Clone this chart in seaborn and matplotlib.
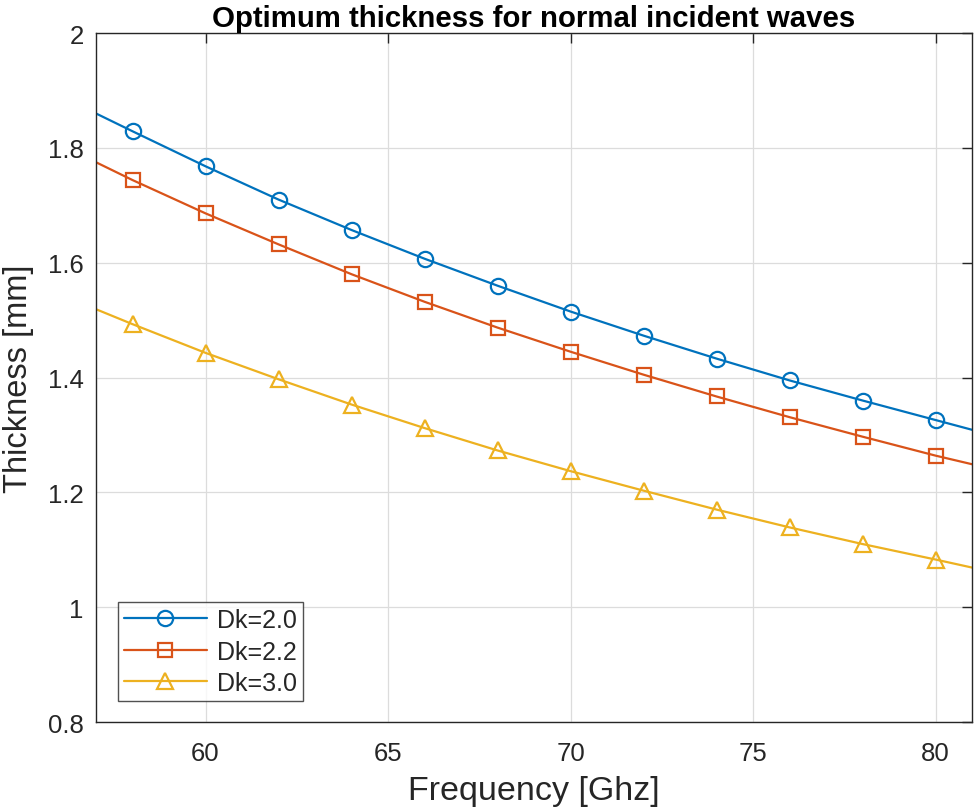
import numpy as np
import pandas as pd
import seaborn as sns
import matplotlib
matplotlib.use("Agg")
import matplotlib.pyplot as plt

# frequency [GHz]: curve spans the axis, markers every 2 GHz from 58 to 80
freq = [57, 58, 60, 62, 64, 66, 68, 70, 72, 74, 76, 78, 80, 81]
thick_dk20 = [1.860, 1.829, 1.768, 1.710, 1.657, 1.607, 1.560, 1.515,
              1.473, 1.433, 1.395, 1.360, 1.326, 1.309]
thick_dk22 = [1.775, 1.744, 1.686, 1.632, 1.580, 1.532, 1.487, 1.445,
              1.405, 1.367, 1.331, 1.297, 1.264, 1.249]
thick_dk30 = [1.519, 1.493, 1.443, 1.397, 1.353, 1.312, 1.273, 1.237,
              1.203, 1.170, 1.139, 1.110, 1.083, 1.069]
labels = ["Dk=2.0", "Dk=2.2", "Dk=3.0"]

sns.set_style("white")
plt.rcParams["font.family"] = ["Liberation Sans", "DejaVu Sans"]

fig = plt.figure(figsize=(9.75, 8.12), dpi=100)
ax = fig.add_axes([0.0985, 0.1096, 0.8985, 0.8484])

colors = ["#0072BD", "#D95319", "#EDB120"]
markers = ["o", "s", "^"]
sizes = [11, 9.5, 12]
for vals, lab, c, m, ms in zip([thick_dk20, thick_dk22, thick_dk30],
                               labels, colors, markers, sizes):
    sns.lineplot(x=freq, y=vals, ax=ax, color=c, marker=m, markersize=ms,
                 markerfacecolor="none", markeredgecolor=c, markeredgewidth=1.6,
                 linewidth=1.6, markevery=slice(1, 13), label=lab)

ax.set_xlim(57, 81)
ax.set_ylim(0.8, 2.0)
ax.set_xticks([60, 65, 70, 75, 80])
ax.set_yticks([0.8, 1.0, 1.2, 1.4, 1.6, 1.8, 2.0])
ax.set_yticklabels(["0.8", "1", "1.2", "1.4", "1.6", "1.8", "2"])
ax.grid(True, color="#dcdcdc", linewidth=0.9)
ax.tick_params(direction="in", length=7, width=1, colors="#262626",
               labelsize=18.5, pad=9, top=True, right=True,
               labeltop=False, labelright=False)
ax.tick_params(axis="x", pad=14)
for s in ax.spines.values():
    s.set_color("#262626")
    s.set_linewidth(1.0)

ax.set_xlabel("Frequency [Ghz]", fontsize=24.5, color="#262626", labelpad=7)
ax.set_ylabel("Thickness [mm]", fontsize=23.5, color="#262626", labelpad=10)
ax.set_title("Optimum thickness for normal incident waves", fontsize=21.2,
             fontweight="bold", color="black", pad=5)

leg = ax.legend(loc="lower left", fontsize=18, frameon=True, fancybox=False,
                edgecolor="#262626", handlelength=3.3, borderpad=0.25,
                labelspacing=0.3, handletextpad=0.4, borderaxespad=0.0,
                bbox_to_anchor=(0.025, 0.03))
leg.get_frame().set_linewidth(1.0)

fig.savefig("out.png", dpi=100)
